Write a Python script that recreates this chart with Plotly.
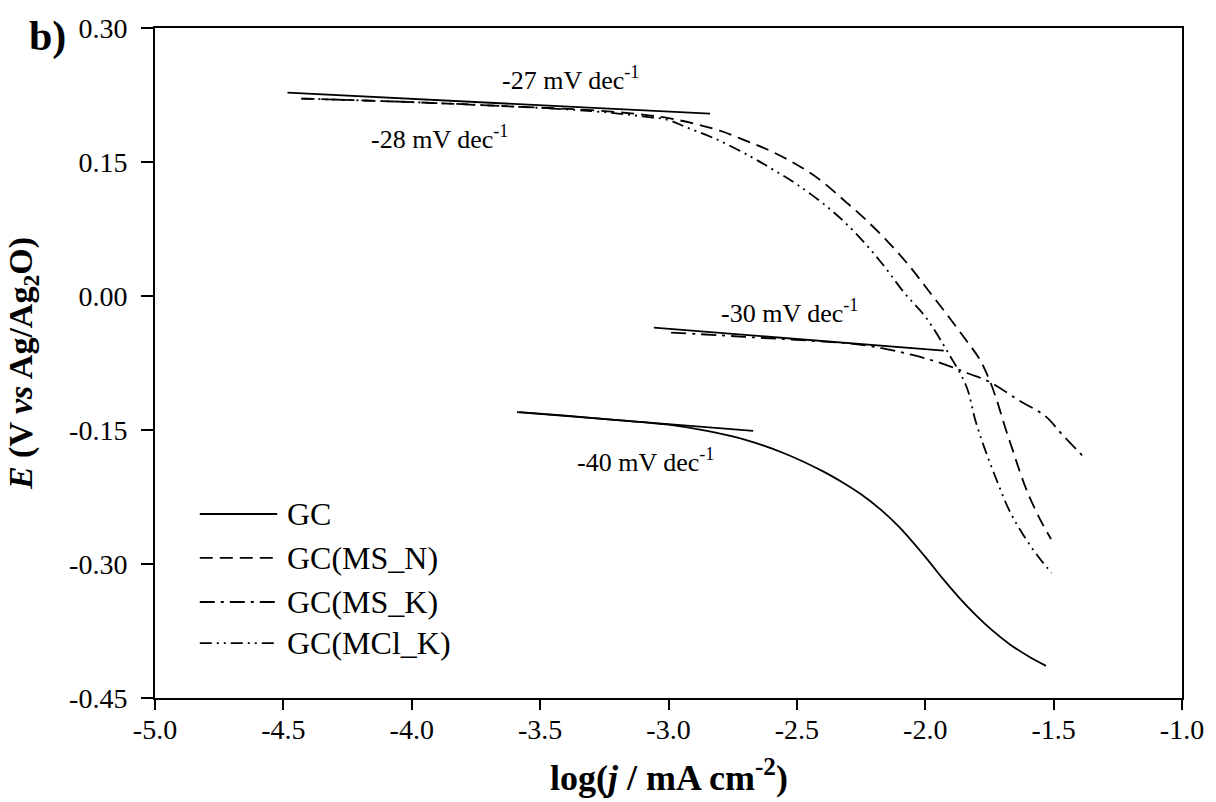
import plotly.graph_objects as go

# ---------------- data ----------------
gc_x = [-3.58, -3.40, -3.20, -3.00, -2.85, -2.70, -2.55, -2.40, -2.32, -2.25, -2.17, -2.10, -2.00, -1.93, -1.87,
        -1.80, -1.74, -1.67, -1.60, -1.53]
gc_y = [-0.130, -0.134, -0.139, -0.144, -0.151, -0.161, -0.176, -0.196, -0.209, -0.222, -0.240, -0.259, -0.292,
        -0.317, -0.337, -0.358, -0.374, -0.390, -0.403, -0.414]

msn_x = [-4.43, -4.00, -3.60, -3.30, -3.10, -3.00, -2.90, -2.80, -2.70, -2.60, -2.50, -2.41, -2.32, -2.23, -2.14,
         -2.06, -1.99, -1.92, -1.85, -1.79, -1.75, -1.72, -1.69, -1.66, -1.63, -1.60, -1.57, -1.54, -1.51]
msn_y = [0.221, 0.217, 0.212, 0.208, 0.203, 0.199, 0.193, 0.185, 0.174, 0.162, 0.147, 0.130, 0.108, 0.085, 0.059,
         0.033, 0.007, -0.019, -0.046, -0.070, -0.094, -0.118, -0.146, -0.172, -0.198, -0.221, -0.240, -0.257, -0.272]

msk_x = [-2.99, -2.80, -2.63, -2.45, -2.24, -2.05, -1.92, -1.83, -1.75, -1.64, -1.53, -1.47, -1.38]
msk_y = [-0.041, -0.044, -0.047, -0.050, -0.055, -0.066, -0.077, -0.087, -0.096, -0.116, -0.135, -0.154, -0.181]

mclk_x = [-4.43, -4.00, -3.60, -3.30, -3.10, -3.00, -2.94, -2.81, -2.68, -2.59, -2.50, -2.37, -2.27, -2.17, -2.08,
          -2.00, -1.91, -1.84, -1.805, -1.767, -1.722, -1.676, -1.63, -1.58, -1.54, -1.508]
mclk_y = [0.221, 0.217, 0.212, 0.207, 0.201, 0.197, 0.190, 0.175, 0.156, 0.141, 0.125, 0.097, 0.070, 0.037, 0.003,
          -0.023, -0.064, -0.101, -0.139, -0.172, -0.206, -0.238, -0.262, -0.284, -0.299, -0.310]

# Tafel fit lines
tafel_top_x = [-4.484, -2.838]
tafel_top_y = [0.2276, 0.2041]
tafel_mid_x = [-3.057, -1.928]
tafel_mid_y = [-0.0355, -0.0612]
tafel_gc_x = [-3.59, -2.67]
tafel_gc_y = [-0.130, -0.151]

slope_labels = ["-27 mV dec<sup>-1</sup>", "-28 mV dec<sup>-1</sup>", "-30 mV dec<sup>-1</sup>", "-40 mV dec<sup>-1</sup>"]
series_names = ["GC", "GC(MS_N)", "GC(MS_K)", "GC(MCl_K)"]

x_ticks = [-5.0, -4.5, -4.0, -3.5, -3.0, -2.5, -2.0, -1.5, -1.0]
x_ticktext = ["-5.0", "-4.5", "-4.0", "-3.5", "-3.0", "-2.5", "-2.0", "-1.5", "-1.0"]
y_ticks = [0.30, 0.15, 0.00, -0.15, -0.30, -0.45]
y_ticktext = ["0.30", "0.15", "0.00", "-0.15", "-0.30", "-0.45"]

x_title = "<b>log(<i>j</i> / mA cm<sup>-2</sup>)</b>"
y_title = "<b><i>E</i> (V <i>vs</i> Ag/Ag<sub>2</sub>O)</b>"

# ---------------- figure ----------------
FONT = "Liberation Serif, Times New Roman, serif"
LW = 1.8
dashes = ["solid", "13px,7px", "15px,6px,3px,6px", "12px,5px,2px,5px,2px,5px"]

fig = go.Figure()
series = [(gc_x, gc_y), (msn_x, msn_y), (msk_x, msk_y), (mclk_x, mclk_y)]
for (xs, ys), name, d in zip(series, series_names, dashes):
    fig.add_trace(go.Scatter(x=xs, y=ys, mode="lines", name=name, showlegend=False,
                             line=dict(color="black", width=LW, dash=d, shape="spline", smoothing=1.0)))

for xs, ys in [(tafel_top_x, tafel_top_y), (tafel_mid_x, tafel_mid_y), (tafel_gc_x, tafel_gc_y)]:
    fig.add_trace(go.Scatter(x=xs, y=ys, mode="lines", showlegend=False, hoverinfo="skip",
                             line=dict(color="black", width=LW)))

# slope annotations
label_pos = [(-3.38, 0.243), (-3.89, 0.1775), (-2.53, -0.0177), (-3.09, -0.1845)]
for txt, (ax, ay) in zip(slope_labels, label_pos):
    fig.add_annotation(x=ax, y=ay, text=txt, showarrow=False, xanchor="center", yanchor="middle",
                       font=dict(family=FONT, size=26, color="black"))

# custom legend (long line samples as in the reference)
leg_y = [0.2746, 0.209, 0.1433, 0.082]
for name, d, yy in zip(series_names, dashes, leg_y):
    fig.add_shape(type="line", xref="paper", yref="paper", x0=0.0436, x1=0.119, y0=yy, y1=yy,
                  line=dict(color="black", width=LW, dash=d))
    fig.add_annotation(xref="paper", yref="paper", x=0.1265, y=yy, text=name, showarrow=False,
                       xanchor="left", yanchor="middle", font=dict(family=FONT, size=32, color="black"))

# panel label
fig.add_annotation(xref="paper", yref="paper", x=-0.1045, y=0.9866, text="<b>b)</b>", showarrow=False,
                   xanchor="center", yanchor="middle", font=dict(family=FONT, size=42, color="black"))

# x axis title (placed to match the reference)
fig.add_annotation(xref="paper", yref="paper", x=0.5, y=-0.1164, text=x_title, showarrow=False,
                   xanchor="center", yanchor="middle", font=dict(family=FONT, size=36, color="black"))

axis_common = dict(showline=True, linecolor="black", linewidth=2, mirror=True, ticks="outside",
                   tickcolor="black", tickwidth=2, showgrid=False, zeroline=False,
                   tickfont=dict(family=FONT, size=28, color="black"))

fig.update_layout(
    width=1216, height=802,
    margin=dict(l=155, r=28, t=28, b=104),
    paper_bgcolor="white", plot_bgcolor="white",
    xaxis=dict(range=[-5.0, -1.0], tickvals=x_ticks, ticktext=x_ticktext, ticklen=10, ticklabelstandoff=-5,
               **axis_common),
    yaxis=dict(range=[-0.45, 0.30], tickvals=y_ticks, ticktext=y_ticktext, ticklen=12, ticklabelstandoff=8,
               title=dict(text=y_title, standoff=26,
                          font=dict(family=FONT, size=34, color="black")),
               **axis_common),
)

fig.write_html("out.html", config={"displayModeBar": False},
               post_script="document.body.style.margin='0';document.body.style.overflow='hidden';")
